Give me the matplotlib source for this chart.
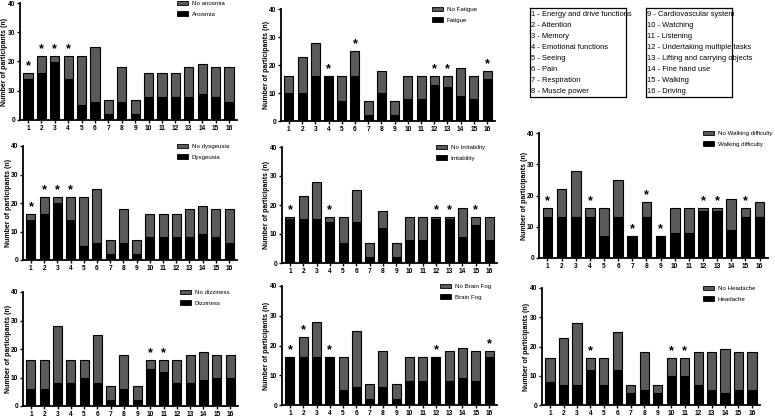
import matplotlib
matplotlib.use("Agg")
import matplotlib.pyplot as plt
from matplotlib.patches import Patch

plt.rcParams['font.family'] = ['Liberation Sans', 'DejaVu Sans']

W, H = 775, 417
categories = [str(i) for i in range(1, 17)]

anosmia_total = [16, 22, 22, 22, 22, 25, 7, 18, 7, 16, 16, 16, 18, 19, 18, 18]
anosmia_yes = [14, 16, 20, 14, 5, 6, 2, 6, 2, 8, 8, 8, 8, 9, 8, 6]
anosmia_stars = [1, 2, 3, 4]

fatigue_total = [16, 23, 28, 16, 16, 25, 7, 18, 7, 16, 16, 16, 16, 19, 16, 18]
fatigue_yes = [10, 10, 16, 16, 7, 16, 2, 10, 2, 8, 8, 13, 12, 9, 8, 15]
fatigue_stars = [4, 6, 12, 13, 16]

dysgeusia_total = [16, 22, 22, 22, 22, 25, 7, 18, 7, 16, 16, 16, 18, 19, 18, 18]
dysgeusia_yes = [14, 16, 20, 14, 5, 6, 2, 6, 2, 8, 8, 8, 8, 9, 8, 6]
dysgeusia_stars = [1, 2, 3, 4]

irritability_total = [16, 23, 28, 16, 16, 25, 7, 18, 7, 16, 16, 16, 16, 19, 16, 16]
irritability_yes = [15, 15, 15, 14, 7, 14, 2, 12, 2, 8, 8, 15, 15, 9, 13, 8]
irritability_stars = [1, 4, 12, 13, 15]

walking_total = [16, 22, 28, 16, 16, 25, 7, 18, 7, 16, 16, 16, 16, 19, 16, 18]
walking_yes = [13, 13, 13, 13, 7, 13, 7, 13, 7, 8, 8, 15, 15, 9, 13, 13]
walking_stars = [1, 4, 7, 8, 9, 12, 13, 15]

dizziness_total = [16, 16, 28, 16, 16, 25, 7, 18, 7, 16, 16, 16, 18, 19, 18, 18]
dizziness_yes = [6, 6, 8, 8, 10, 8, 2, 6, 2, 13, 12, 8, 8, 9, 10, 10]
dizziness_stars = [10, 11]

brainfog_total = [16, 23, 28, 16, 16, 25, 7, 18, 7, 16, 16, 16, 18, 19, 18, 18]
brainfog_yes = [16, 16, 16, 16, 5, 6, 2, 6, 2, 8, 8, 16, 8, 9, 8, 16]
brainfog_stars = [1, 2, 4, 12, 16]

headache_total = [16, 23, 28, 16, 16, 25, 7, 18, 7, 16, 16, 18, 18, 19, 18, 18]
headache_yes = [8, 7, 7, 12, 7, 12, 4, 5, 4, 10, 10, 7, 5, 4, 5, 5]
headache_stars = [4, 10, 11]

legend_left = ["1 - Energy and drive functions", "2 - Attention", "3 - Memory",
               "4 - Emotional functions", "5 - Seeing", "6 - Pain",
               "7 - Respiration", "8 - Muscle power"]
legend_right = ["9 - Cardiovascular system", "10 - Watching", "11 - Listening",
                "12 - Undertaking multiple tasks", "13 - Lifting and carrying objects",
                "14 - Fine hand use", "15 - Walking", "16 - Driving"]

GRAY = '#5a5a5a'

fig = plt.figure(figsize=(W / 100, H / 100), dpi=100)
fig.patch.set_facecolor('white')


def px_axes(l, t, r, b):
    return fig.add_axes([l / W, 1 - b / H, (r - l) / W, (b - t) / H])


def panel(rect, yes_label, no_label, total, yes, stars, leg_x):
    l, t, r, b = rect
    ax = px_axes(*rect)
    x = list(range(1, 17))
    no = [tt - y for tt, y in zip(total, yes)]
    ax.bar(x, yes, width=0.68, color='black', edgecolor='black', linewidth=0.8, zorder=2)
    ax.bar(x, no, bottom=yes, width=0.68, color=GRAY, edgecolor='black', linewidth=0.8, zorder=2)
    for s in stars:
        ax.text(s, total[s - 1] + 0.3, '*', ha='center', va='bottom',
                fontsize=9, fontweight='bold')
    ax.set_xlim(0.4, 16.6)
    ax.set_ylim(0, 40)
    ax.set_yticks([0, 10, 20, 30, 40])
    ax.set_xticks(x)
    ax.set_xticklabels(categories)
    for sp in ['top', 'right']:
        ax.spines[sp].set_visible(False)
    for sp in ['left', 'bottom']:
        ax.spines[sp].set_linewidth(1.3)
    ax.tick_params(axis='both', labelsize=4.8, width=1.0, length=2.2, pad=1.2)
    for lab in ax.get_xticklabels() + ax.get_yticklabels():
        lab.set_fontweight('bold')
    ax.set_ylabel('Number of participants (n)', fontsize=5.0, fontweight='bold')
    ax.yaxis.set_label_coords(-11.5 / (r - l), 0.5)
    handles = [Patch(facecolor=GRAY, edgecolor='black', linewidth=0.6, label=no_label),
               Patch(facecolor='black', edgecolor='black', linewidth=0.6, label=yes_label)]
    leg_top = max(t - 2, 0.5)
    ax.legend(handles=handles, loc='upper left',
              bbox_to_anchor=((leg_x - l) / (r - l), (b - leg_top) / (b - t)),
              frameon=False, fontsize=4.4, handlelength=1.8, handleheight=0.7,
              handletextpad=0.6, labelspacing=0.85, borderaxespad=0, borderpad=0)
    return ax


panel((20, 3, 237, 120), 'Anosmia', 'No anosmia', anosmia_total, anosmia_yes, anosmia_stars, 177)
panel((281, 9, 495, 121), 'Fatigue', 'No Fatigue', fatigue_total, fatigue_yes, fatigue_stars, 432)
panel((23, 146, 237, 260), 'Dysgeusia', 'No dysgeusia', dysgeusia_total, dysgeusia_yes, dysgeusia_stars, 177)
panel((282, 147, 497, 263), 'Irritability', 'No Irritability', irritability_total, irritability_yes, irritability_stars, 436)
panel((539, 133, 768, 258), 'Walking difficulty', 'No Walking difficulty', walking_total, walking_yes, walking_stars, 703)
panel((23, 292, 238, 406), 'Dizziness', 'No dizziness', dizziness_total, dizziness_yes, dizziness_stars, 180)
panel((282, 286, 497, 405), 'Brain Fog', 'No Brain Fog', brainfog_total, brainfog_yes, brainfog_stars, 440)
panel((542, 288, 760, 405), 'Headache', 'No Headache', headache_total, headache_yes, headache_stars, 703)

for (l, t, r, b), lines in [((530, 8, 626, 97), legend_left), ((646, 8, 732, 97), legend_right)]:
    bx = px_axes(l, t, r, b)
    bx.set_xticks([])
    bx.set_yticks([])
    for sp in bx.spines.values():
        sp.set_linewidth(0.9)
    n = len(lines)
    for i, txt in enumerate(lines):
        bx.text(0.01, 1 - (i + 0.55) / n, txt, transform=bx.transAxes,
                fontsize=5.4, va='center', ha='left')

fig.savefig('out.png', dpi=100)
